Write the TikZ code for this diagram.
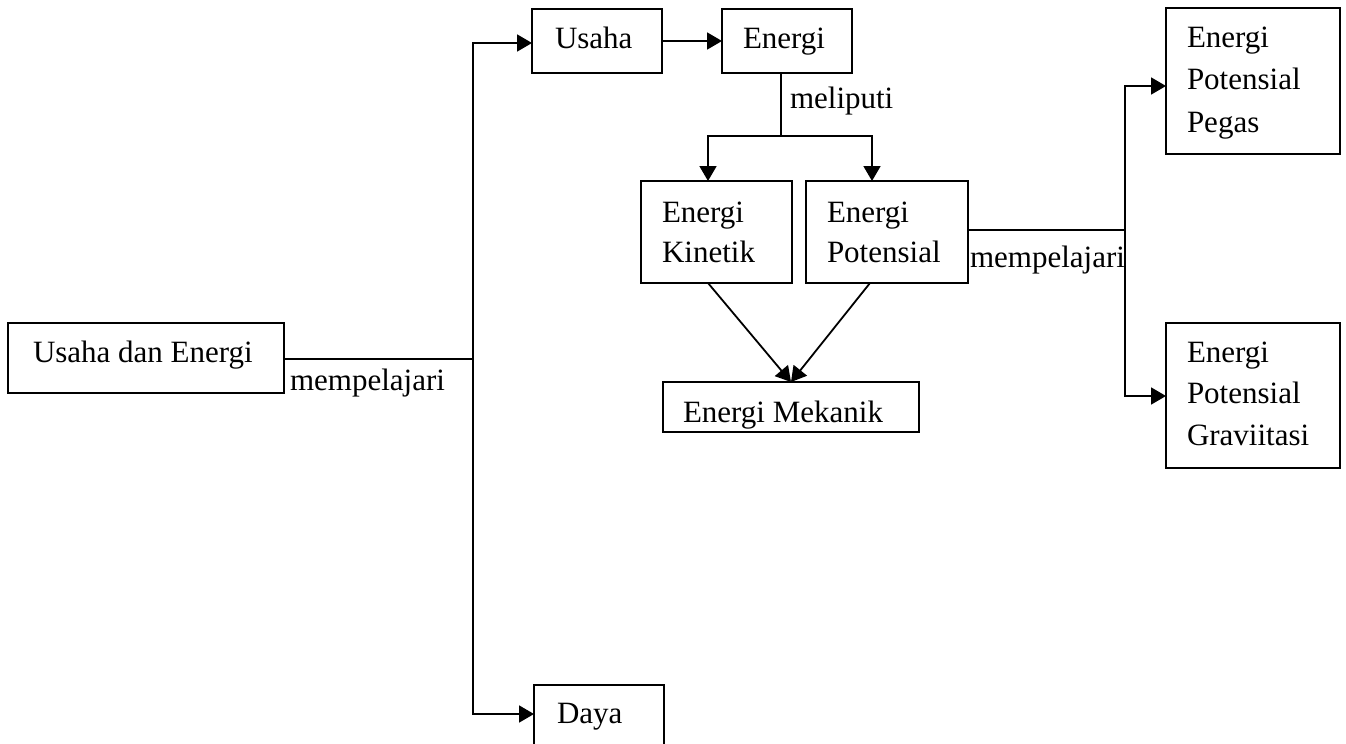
\documentclass[tikz,border=0pt]{standalone}
\usepackage{fontspec}
\setmainfont{Liberation Serif}
\usetikzlibrary{arrows.meta,calc}
\begin{document}
\begin{tikzpicture}[x=0.5pt,y=-0.5pt,
  box/.style={draw,line width=0.9pt,inner sep=0pt,outer sep=0pt,rectangle},
  txt/.style={anchor=base west,inner sep=0pt,outer sep=0pt,font=\fontsize{15.5}{20}\selectfont},
  conn/.style={line width=0.9pt},
  arr/.style={line width=0.9pt,-{Triangle[length=7.5pt,width=8.5pt]}}]
\useasboundingbox (0,0) rectangle (1346,744);
\clip (0,0) rectangle (1346,744);
% boxes
\node[box,minimum width=138pt,minimum height=35pt] (ue) at (146,358) {};
\node[box,minimum width=65pt,minimum height=32pt] (usaha) at (597,41) {};
\node[box,minimum width=65pt,minimum height=32pt] (energi) at (787,41) {};
\node[box,minimum width=75.5pt,minimum height=51pt] (ek) at (716.5,232) {};
\node[box,minimum width=81pt,minimum height=51pt] (ep) at (887,232) {};
\node[box,minimum width=128pt,minimum height=25pt] (em) at (791,407) {};
\node[box,minimum width=87pt,minimum height=73pt] (epp) at (1253,81) {};
\node[box,minimum width=87pt,minimum height=72.5pt] (epg) at (1253,395.5) {};
\node[box,minimum width=65pt,minimum height=40pt] (daya) at (599,725) {};
% texts
\node[txt] (t-ue) at (33,362) {Usaha dan Energi};
\node[txt] (t-m1) at (290,390) {mempelajari};
\node[txt] (t-us) at (555,48) {Usaha};
\node[txt] (t-en) at (743,48) {Energi};
\node[txt] (t-ml) at (790,108) {meliputi};
\node[txt] (t-ek1) at (662,222) {Energi};
\node[txt] (t-ek2) at (662,262) {Kinetik};
\node[txt] (t-ep1) at (827,222) {Energi};
\node[txt] (t-ep2) at (827,262) {Potensial};
\begin{scope}
\clip (663,382) rectangle (919,428);
\node[txt] (t-em) at (683,422) {Energi Mekanik};
\end{scope}
\node[txt] (t-m2) at (970,267) {mempelajari};
\node[txt] (t-pp1) at (1187,47) {Energi};
\node[txt] (t-pp2) at (1187,90) {Potensial};
\node[txt] (t-pp3) at (1187,132) {Pegas};
\node[txt] (t-pg1) at (1187,362) {Energi};
\node[txt] (t-pg2) at (1187,403) {Potensial};
\node[txt] (t-pg3) at (1187,445) {Graviitasi};
\node[txt] (t-dy) at (557,723) {Daya};
% connectors
\coordinate (hub) at (473,359);
\draw[conn] ($(ue.north east)+(0,36)$) -- (hub);
\draw[arr] (hub) |- ($(usaha.north west)+(0,34)$);
\draw[arr] (hub) |- ($(daya.north west)+(0,29)$);
\draw[arr] (usaha.east) -- (energi.west);
\coordinate (split) at (781,136);
\draw[conn] ($(energi.south west)+(59,0)$) -- (split);
\draw[arr] (split) -| ($(ek.north west)+(67,0)$);
\draw[arr] (split) -| ($(ep.north west)+(66,0)$);
\draw[arr] ($(ek.south west)+(67,0)$) -- (em.north);
\draw[arr] ($(ep.south west)+(64,0)$) -- (em.north);
\coordinate (hub2) at (1125,230);
\draw[conn] ($(ep.north east)+(0,49)$) -- (hub2);
\draw[arr] (hub2) |- ($(epp.north west)+(0,78)$);
\draw[arr] (hub2) |- ($(epg.north west)+(0,73)$);
\end{tikzpicture}
\end{document}
